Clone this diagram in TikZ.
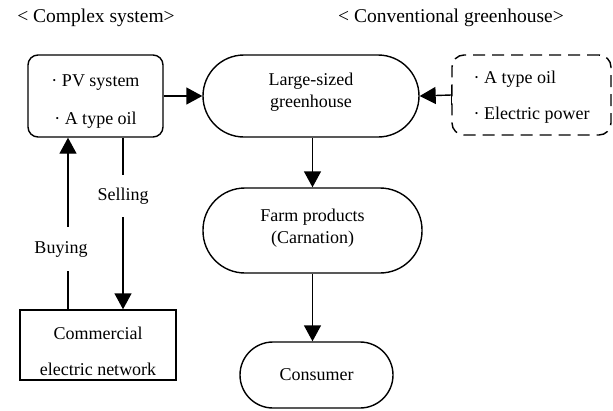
\documentclass[tikz,border=0pt]{standalone}
\usepackage{fontspec}
\setmainfont{Liberation Serif}
\usetikzlibrary{arrows.meta}
\begin{document}
\begin{tikzpicture}[x=1pt,y=-1pt,
  every node/.style={font=\fontsize{18}{22}\selectfont, inner sep=0pt},
  title/.style={font=\fontsize{19.5}{23}\selectfont},
  box/.style={draw, line width=1.4pt},
  arr/.style={line width=1.4pt, -{Triangle[length=16pt,width=17pt]}},
  lbl/.style={fill=white, inner xsep=2pt}]
\useasboundingbox (0,0) rectangle (613,410);

\node[title] (t1) at (96,18) {< Complex system>};
\node[title] (t2) at (451,18) {< Conventional greenhouse>};

\node[box, rounded corners=10pt, minimum width=135pt, minimum height=82pt, align=center] (pv) at (95.5,96)
  {\rule{0pt}{22pt}· PV system\\[16pt]· A type oil};
\node[box, rounded corners=41pt, minimum width=216pt, minimum height=82pt, align=center] (gh) at (311,96)
  {Large-sized\\greenhouse\rule[-12pt]{0pt}{0pt}};
\node[box, dashed, dash pattern=on 12pt off 7pt, rounded corners=12pt, minimum width=159pt, minimum height=80pt, align=left] (conv) at (531.5,95)
  {\rule{0pt}{16pt}· A type oil\\[14pt]· Electric power};
\node[box, rounded corners=42pt, minimum width=219pt, minimum height=85pt, align=center] (farm) at (312.5,230.5)
  {Farm products\\(Carnation)\rule[-8pt]{0pt}{0pt}};
\node[box, rounded corners=33pt, minimum width=153pt, minimum height=66pt] (cons) at (316.5,375) {Consumer};
\node[box, minimum width=156pt, minimum height=70pt, align=center] (comm) at (98,345)
  {\rule{0pt}{26pt}Commercial\\[14pt]electric network};

\coordinate (bx) at (68,0);
\coordinate (sx) at (123,0);

\draw[arr] (pv.east) -- (gh.west);
\draw[arr] (conv.west) -- (gh.east);
\draw[line width=1.4pt] ([yshift=-10pt]conv.west) -- ([yshift=10pt]conv.west);
\draw[arr] (gh.south -| farm.north) -- (farm.north);
\draw[arr] (farm.south) -- (cons.north -| farm.south);
\draw[arr] (comm.north -| bx) -- node[lbl, pos=0.35, inner ysep=14pt, xshift=-7pt] {Buying} (pv.south -| bx);
\draw[arr] (pv.south -| sx) -- node[lbl, pos=0.34, inner ysep=12.5pt] {Selling} (comm.north -| sx);
\end{tikzpicture}
\end{document}
